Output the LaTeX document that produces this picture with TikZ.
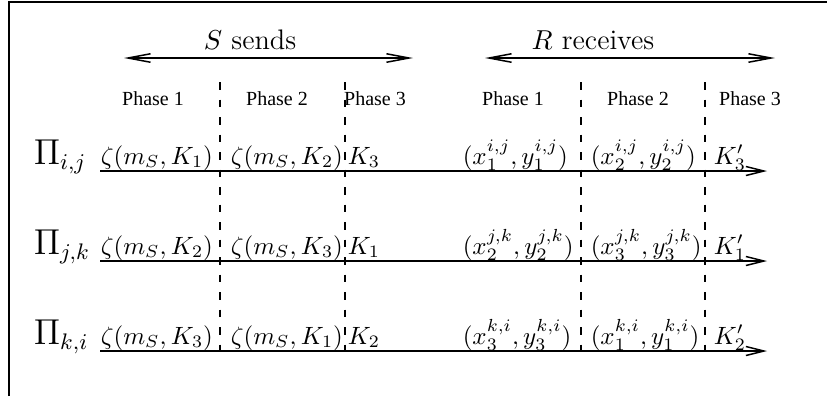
\documentclass[tikz,border=0pt]{standalone}
\usepackage{amsmath}
\usepackage{fontspec}
\newfontfamily\phasefont{Liberation Serif}
\usepackage{tikz}
\usetikzlibrary{arrows.meta}
\usepackage{xcolor}

\tikzset{
  txt/.style={inner sep=0pt, anchor=base west},
  phase/.style={inner sep=0pt, anchor=base, font=\phasefont\footnotesize},
  head/.style={inner sep=0pt, anchor=base, font=\fontsize{11.3}{13}\selectfont},
  link/.style={inner sep=0pt, anchor=base west, font=\fontsize{13.4}{16}\selectfont},
  span/.style={{Straight Barb[length=9pt,width=3.4pt]}-{Straight Barb[length=9pt,width=3.4pt]}},
  msg/.style={-{Straight Barb[length=7.2pt,width=3.6pt]}},
  cut/.style={dash pattern=on 3pt off 4pt}
}

\begin{document}
\begin{tikzpicture}[x=0.4pt, y=-0.4pt, line width=0.6pt]
\useasboundingbox (0,0) rectangle (827,396);
\draw (9,396) -- (9,2) -- (827,2);
% who does what
\node[head] (ssend) at (250,49) {$S$ sends};
\node[head] (rrecv) at (593,49) {$R$ receives};
\coordinate (sl) at (124,58);
\coordinate (sr) at (413,58);
\coordinate (rl) at (485,58);
\coordinate (rr) at (775,58);
\draw[span] (sl) -- (sr);
\draw[span] (rl) -- (rr);
% phases
\foreach \x/\p [count=\n] in {153/1,277/2,375/3,513/1,638/2,750/3}
    \node[phase] (ph\n) at (\x,105) {Phase \p};
\foreach \x [count=\n] in {220,345,581,705} {
    \coordinate (ct\n) at (\x,82);
    \coordinate (cb\n) at (\x,360);
    \draw[cut] (ct\n) -- (cb\n);
}
% the three links
\foreach \l/\a/\b/\c/\u/\v/\w/\s/\t [count=\n] in {
    {i,j}/1/2/3/1/2/3/{i,j}/{i,j},
    {j,k}/2/3/1/2/3/1/{j,k}/{j,k},
    {k,i}/3/1/2/3/1/2/{k,i}/{k,i}} {
    \pgfmathsetmacro{\yb}{164+90*(\n-1)}
    \pgfmathsetmacro{\yl}{171+90*(\n-1)}
    \node[link] (pi\n) at (33,\yb) {$\Pi_{\l}$};
    \node[txt] (ca\n) at (100,\yb) {$\zeta(m_S,K_\a)$};
    \node[txt] (cb\n) at (230,\yb) {$\zeta(m_S,K_\b)$};
    \node[txt] (cc\n) at (347,\yb) {$K_\c$};
    \node[txt] (cd\n) at (462,\yb) {$(x_\u^{\s},y_\u^{\t})$};
    \node[txt] (ce\n) at (590,\yb) {$(x_\v^{\s},y_\v^{\t})$};
    \node[txt] (cf\n) at (713,\yb) {$K'_\w$};
    \coordinate (ls\n) at (100,\yl);
    \coordinate (le\n) at (767,\yl);
    \draw[msg] (ls\n) -- (le\n);
}
\end{tikzpicture}
\end{document}
